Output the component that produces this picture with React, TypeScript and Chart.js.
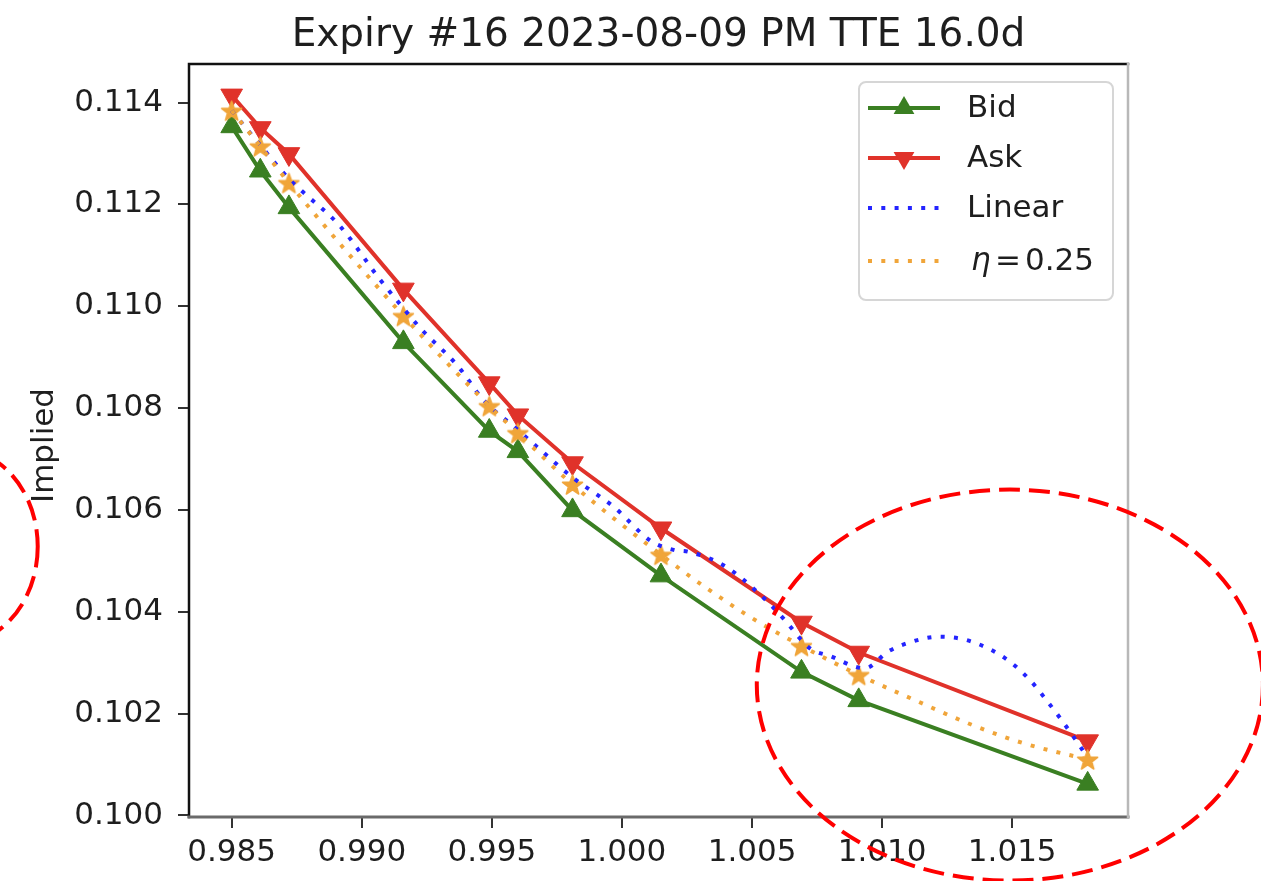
import React, { useEffect, useRef } from 'react';
import { Chart, registerables } from 'chart.js';

Chart.register(...registerables);

// ---------- data ----------
const chartTitle = 'Expiry #16 2023-08-09 PM TTE 16.0d';
const yAxisLabel = 'Implied';

const strikes = [0.985, 0.9861, 0.9872, 0.9916, 0.9949, 0.996, 0.9981, 1.0015, 1.0069, 1.0091, 1.0179];
const bidVols = [0.11353, 0.11266, 0.11194, 0.10929, 0.10755, 0.10715, 0.10599, 0.10471, 0.10282, 0.10226, 0.10062];
const askVols = [0.11414, 0.1135, 0.11299, 0.11033, 0.10849, 0.10786, 0.10692, 0.10564, 0.10379, 0.1032, 0.10146];
const midVols = [0.11384, 0.11314, 0.11242, 0.10981, 0.10804, 0.10751, 0.1065, 0.10512, 0.10333, 0.10276, 0.1011];

const linearX = [0.985, 0.9861, 0.9872, 0.98768, 0.98915, 0.99069, 0.9916, 0.99223, 0.9937, 0.99466, 0.996, 0.99684, 0.99812, 0.99966, 1.00114, 1.00203, 1.00254, 1.00395, 1.00549, 1.0062, 1.00723, 1.00806, 1.00896, 1.00934, 1.01023, 1.01113, 1.01215, 1.01312, 1.01408, 1.01491, 1.01568, 1.01632, 1.0169, 1.01754, 1.0179];
const linearY = [0.11384, 0.11316, 0.1125, 0.11227, 0.11158, 0.11053, 0.10996, 0.10958, 0.10882, 0.10817, 0.10757, 0.10719, 0.10663, 0.10607, 0.10538, 0.10521, 0.10518, 0.1049, 0.10425, 0.10387, 0.10328, 0.10312, 0.10292, 0.10289, 0.10322, 0.10341, 0.10351, 0.10346, 0.10328, 0.10302, 0.10266, 0.10226, 0.10187, 0.10141, 0.10113];

const etaX = [0.985, 0.9861, 0.9872, 0.9916, 0.9949, 0.996, 0.9981, 1.0015, 1.00318, 1.00492, 1.0069, 1.0091, 1.01119, 1.0135, 1.01549, 1.0179];
const etaY = [0.11384, 0.11314, 0.11242, 0.10981, 0.10804, 0.10751, 0.1065, 0.10512, 0.10449, 0.1039, 0.10333, 0.10276, 0.10228, 0.10177, 0.10141, 0.1011];

const xTickValues = [0.985, 0.99, 0.995, 1.0, 1.005, 1.01, 1.015];
const yTickValues = [0.1, 0.102, 0.104, 0.106, 0.108, 0.11, 0.112, 0.114];
const xRange = [0.98336, 1.01945];
const yRange = [0.09997, 0.114756];

const seriesLabels = ['Bid', 'Ask', 'Linear', 'η = 0.25'];

// red dashed highlight ellipses (centre / radii in data units)
const highlightCx = [1.01491, 0.97447];
const highlightCy = [0.10256, 0.10528];
const highlightRx = [0.009727, 0.003076];
const highlightRy = [0.003839, 0.00191];

// ---------- styles ----------
const FONT = '"DejaVu Sans", "Liberation Sans", sans-serif';
const GREEN = '#3a7f22';
const RED = '#e0322a';
const BLUE = '#2424ff';
const ORANGE = '#f0a53a';
const TEXT = '#1e1e1e';

function makeStar(color: string, R: number): HTMLCanvasElement {
  const size = Math.ceil(R * 2 + 4);
  const c = document.createElement('canvas');
  c.width = size;
  c.height = size;
  const g = c.getContext('2d')!;
  const cx = size / 2;
  const cy = size / 2 + R * 0.1;
  const r = R * 0.42;
  g.beginPath();
  for (let i = 0; i < 10; i++) {
    const rad = i % 2 === 0 ? R : r;
    const a = -Math.PI / 2 + (i * Math.PI) / 5;
    const px = cx + rad * Math.cos(a);
    const py = cy + rad * Math.sin(a);
    if (i === 0) g.moveTo(px, py);
    else g.lineTo(px, py);
  }
  g.closePath();
  g.fillStyle = color;
  g.fill();
  g.strokeStyle = color;
  g.lineWidth = 1.5;
  g.lineJoin = 'round';
  g.stroke();
  return c;
}

function tri(ctx: CanvasRenderingContext2D, x: number, y: number, r: number, down: boolean, color: string) {
  ctx.save();
  ctx.translate(x, y);
  if (down) ctx.rotate(Math.PI);
  ctx.beginPath();
  for (let i = 0; i < 3; i++) {
    const a = (i * 2 * Math.PI) / 3;
    const px = Math.sin(a) * r;
    const py = -Math.cos(a) * r;
    if (i === 0) ctx.moveTo(px, py);
    else ctx.lineTo(px, py);
  }
  ctx.closePath();
  ctx.fillStyle = color;
  ctx.fill();
  ctx.restore();
}

const decorPlugin = {
  id: 'decor',
  beforeDraw(chart: any) {
    const { ctx, width, height } = chart;
    ctx.save();
    ctx.fillStyle = '#ffffff';
    ctx.fillRect(0, 0, width, height);
    ctx.restore();
  },
  afterDraw(chart: any) {
    const { ctx, chartArea } = chart;
    const { left, right, top, bottom } = chartArea;
    const xs = chart.scales.x;
    const ys = chart.scales.y;
    ctx.save();

    // spines
    ctx.lineCap = 'square';
    ctx.strokeStyle = '#111';
    ctx.lineWidth = 2.5;
    ctx.beginPath();
    ctx.moveTo(left, bottom);
    ctx.lineTo(left, top);
    ctx.lineTo(right, top);
    ctx.stroke();
    ctx.strokeStyle = '#6a6a6a';
    ctx.lineWidth = 3;
    ctx.beginPath();
    ctx.moveTo(left, bottom);
    ctx.lineTo(right, bottom);
    ctx.stroke();
    ctx.strokeStyle = '#b8b8b8';
    ctx.lineWidth = 2.5;
    ctx.beginPath();
    ctx.moveTo(right, top);
    ctx.lineTo(right, bottom);
    ctx.stroke();

    // title
    ctx.fillStyle = TEXT;
    ctx.font = `39px ${FONT}`;
    ctx.textAlign = 'center';
    ctx.textBaseline = 'alphabetic';
    ctx.fillText(chartTitle, (left + right) / 2, 46);

    // y label
    ctx.save();
    ctx.translate(53, (top + bottom) / 2 + 5);
    ctx.rotate(-Math.PI / 2);
    ctx.font = `31px ${FONT}`;
    ctx.textAlign = 'center';
    ctx.textBaseline = 'alphabetic';
    ctx.fillText(yAxisLabel, 0, 0);
    ctx.restore();

    // legend
    const lx = 859, ly = 82, lw = 254, lh = 218, rr = 7;
    ctx.beginPath();
    ctx.moveTo(lx + rr, ly);
    ctx.arcTo(lx + lw, ly, lx + lw, ly + lh, rr);
    ctx.arcTo(lx + lw, ly + lh, lx, ly + lh, rr);
    ctx.arcTo(lx, ly + lh, lx, ly, rr);
    ctx.arcTo(lx, ly, lx + lw, ly, rr);
    ctx.closePath();
    ctx.fillStyle = 'rgba(255,255,255,0.85)';
    ctx.fill();
    ctx.strokeStyle = '#d6d6d6';
    ctx.lineWidth = 2;
    ctx.stroke();

    const rowsY = [108, 158, 208, 261];
    const hx0 = 868, hx1 = 940, tx = 967;
    // Bid
    ctx.lineCap = 'butt';
    ctx.setLineDash([]);
    ctx.strokeStyle = GREEN;
    ctx.lineWidth = 4;
    ctx.beginPath(); ctx.moveTo(hx0, rowsY[0]); ctx.lineTo(hx1, rowsY[0]); ctx.stroke();
    tri(ctx, (hx0 + hx1) / 2, rowsY[0], 12, false, GREEN);
    // Ask
    ctx.strokeStyle = RED;
    ctx.beginPath(); ctx.moveTo(hx0, rowsY[1]); ctx.lineTo(hx1, rowsY[1]); ctx.stroke();
    tri(ctx, (hx0 + hx1) / 2, rowsY[1], 12, true, RED);
    // Linear / eta
    ctx.setLineDash([4, 9.3]);
    ctx.lineWidth = 4;
    ctx.strokeStyle = BLUE;
    ctx.beginPath(); ctx.moveTo(hx0, rowsY[2]); ctx.lineTo(hx1, rowsY[2]); ctx.stroke();
    ctx.strokeStyle = ORANGE;
    ctx.beginPath(); ctx.moveTo(hx0, rowsY[3]); ctx.lineTo(hx1, rowsY[3]); ctx.stroke();
    ctx.setLineDash([]);

    ctx.fillStyle = TEXT;
    ctx.font = `31px ${FONT}`;
    ctx.textAlign = 'left';
    ctx.textBaseline = 'middle';
    ctx.fillText(seriesLabels[0], tx, rowsY[0] + 1);
    ctx.fillText(seriesLabels[1], tx, rowsY[1] + 1);
    ctx.fillText(seriesLabels[2], tx, rowsY[2] + 1);
    // eta label: italic eta, then "= 0.25" (mathtext-like spacing)
    const parts = seriesLabels[3].split(' ');
    ctx.font = `italic 31px ${FONT}`;
    ctx.fillText(parts[0], tx + 4, rowsY[3] + 1);
    ctx.font = `31px ${FONT}`;
    ctx.fillText(parts[1], tx + 28, rowsY[3] + 1);
    ctx.fillText(parts[2], tx + 58, rowsY[3] + 1);

    // highlight ellipses
    ctx.strokeStyle = '#ff0000';
    ctx.lineWidth = 4;
    ctx.setLineDash([21, 9]);
    for (let i = 0; i < highlightCx.length; i++) {
      const cx = xs.getPixelForValue(highlightCx[i]);
      const cy = ys.getPixelForValue(highlightCy[i]);
      const rx = Math.abs(xs.getPixelForValue(highlightCx[i] + highlightRx[i]) - cx);
      const ry = Math.abs(ys.getPixelForValue(highlightCy[i] + highlightRy[i]) - cy);
      ctx.beginPath();
      ctx.ellipse(cx, cy, rx, ry, 0, 0, Math.PI * 2);
      ctx.stroke();
    }
    ctx.restore();
  },
};

export default function App() {
  const canvasRef = useRef<HTMLCanvasElement | null>(null);

  useEffect(() => {
    const canvas = canvasRef.current;
    if (!canvas) return;
    const star = makeStar(ORANGE, 10.5);
    const pts = (xv: number[], yv: number[]) => xv.map((x, i) => ({ x, y: yv[i] }));

    const chart = new Chart(canvas, {
      type: 'line',
      data: {
        datasets: [
          {
            label: seriesLabels[0],
            data: pts(strikes, bidVols),
            borderColor: GREEN,
            backgroundColor: GREEN,
            borderWidth: 4,
            pointStyle: 'triangle',
            pointRadius: 12.5,
            pointBackgroundColor: GREEN,
            pointBorderColor: GREEN,
            pointBorderWidth: 1,
            tension: 0,
            order: 5,
          },
          {
            label: seriesLabels[1],
            data: pts(strikes, askVols),
            borderColor: RED,
            backgroundColor: RED,
            borderWidth: 4,
            pointStyle: 'triangle',
            pointRotation: 180,
            pointRadius: 12.5,
            pointBackgroundColor: RED,
            pointBorderColor: RED,
            pointBorderWidth: 1,
            tension: 0,
            order: 4,
          },
          {
            label: 'Mid',
            data: pts(strikes, midVols),
            showLine: false,
            pointStyle: star as any,
            pointRadius: 10,
            order: 3,
          },
          {
            label: seriesLabels[2],
            data: pts(linearX, linearY),
            borderColor: BLUE,
            borderWidth: 4,
            borderDash: [4, 9.3],
            pointRadius: 0,
            cubicInterpolationMode: 'monotone',
            order: 2,
          },
          {
            label: seriesLabels[3],
            data: pts(etaX, etaY),
            borderColor: ORANGE,
            borderWidth: 4,
            borderDash: [4, 9.3],
            pointRadius: 0,
            cubicInterpolationMode: 'monotone',
            order: 1,
          },
        ] as any,
      },
      options: {
        responsive: false,
        animation: false,
        devicePixelRatio: 1,
        events: [],
        layout: { padding: { left: 0, top: 64, right: 133, bottom: 0 } },
        plugins: {
          legend: { display: false },
          title: { display: false },
          tooltip: { enabled: false },
        },
        scales: {
          x: {
            type: 'linear',
            min: xRange[0],
            max: xRange[1],
            afterFit: (s: any) => {
              s.height = 64;
            },
            afterBuildTicks: (s: any) => {
              s.ticks = xTickValues.map((v) => ({ value: v }));
            },
            ticks: {
              callback: (v: any) => Number(v).toFixed(3),
              font: { family: FONT, size: 31 },
              color: TEXT,
              padding: 6,
              maxRotation: 0,
              autoSkip: false,
            },
            grid: { display: true, drawOnChartArea: false, drawTicks: true, tickLength: 11, color: '#333', lineWidth: 2 },
            border: { display: false },
          },
          y: {
            type: 'linear',
            min: yRange[0],
            max: yRange[1],
            afterFit: (s: any) => {
              s.width = 189;
            },
            afterBuildTicks: (s: any) => {
              s.ticks = yTickValues.map((v) => ({ value: v }));
            },
            ticks: {
              callback: (v: any) => Number(v).toFixed(3),
              font: { family: FONT, size: 31 },
              color: TEXT,
              padding: 15,
              autoSkip: false,
            },
            grid: { display: true, drawOnChartArea: false, drawTicks: true, tickLength: 11, color: '#333', lineWidth: 2 },
            border: { display: false },
          },
        },
      } as any,
      plugins: [decorPlugin],
    });
    return () => chart.destroy();
  }, []);

  return (
    <div style={{ position: 'fixed', left: 0, top: 0, width: 1261, height: 881, background: '#fff' }}>
      <canvas ref={canvasRef} width={1261} height={881} style={{ display: 'block', width: 1261, height: 881 }} />
    </div>
  );
}
